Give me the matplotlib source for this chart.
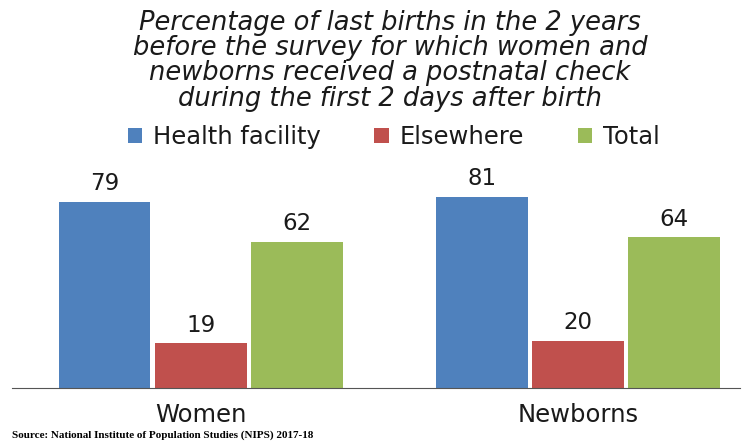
import matplotlib.pyplot as plt
import numpy as np

plt.rcParams['font.family'] = ['DejaVu Sans']

categories = ['Women', 'Newborns']
series_names = ['Health facility', 'Elsewhere', 'Total']
health_facility = [79, 81]
elsewhere = [19, 20]
total = [62, 64]

title = ('Percentage of last births in the 2 years\n'
         'before the survey for which women and\n'
         'newborns received a postnatal check\n'
         'during the first 2 days after birth')
source = 'Source: National Institute of Population Studies (NIPS) 2017-18'

colors = ['#4F81BD', '#C0504D', '#9BBB59']

fig = plt.figure(figsize=(7.53, 4.44), dpi=100)
ax = fig.add_axes([0.016, 0.126, 0.967, 0.478])

x = np.arange(len(categories))
width = 0.243
step = 0.255
for i, (name, vals) in enumerate(zip(series_names, [health_facility, elsewhere, total])):
    bars = ax.bar(x + (i - 1) * step, vals, width, color=colors[i], label=name)
    for b, v in zip(bars, vals):
        ax.text(b.get_x() + b.get_width() / 2, v + 2.8, str(v),
                ha='center', va='bottom', fontsize=16.5, color='#1a1a1a')

ax.set_xlim(-0.5, 1.43)
ax.set_ylim(0, 90)
ax.set_yticks([])
ax.set_xticks(x)
ax.set_xticklabels(categories, fontsize=17.5, color='#1a1a1a')
ax.tick_params(axis='x', length=0, pad=11)
for s in ['top', 'right', 'left']:
    ax.spines[s].set_visible(False)
ax.spines['bottom'].set_color('#555555')

# four-line italic heading
fig.text(0.518, 0.978, title, ha='center', va='top', fontsize=18.5,
         style='italic', linespacing=0.965, color='#1a1a1a')

leg = ax.legend(loc='center', bbox_to_anchor=(0.523, 0.691),
                bbox_transform=fig.transFigure, ncol=3, frameon=False,
                fontsize=17.5, handlelength=0.6, handleheight=0.6,
                handletextpad=0.45, columnspacing=2.2)
for t in leg.get_texts():
    t.set_color('#1a1a1a')

fig.text(0.016, 0.008, source, ha='left', va='bottom', fontsize=8,
         fontweight='bold', family='Liberation Serif')

fig.savefig('out.png', dpi=100)
